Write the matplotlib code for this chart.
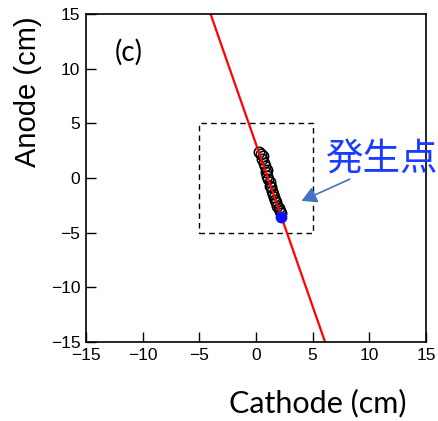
import matplotlib
matplotlib.use("Agg")
import matplotlib.pyplot as plt

# reconstructed track hits (cm)
hit_x = [0.30, 0.45, 0.55, 0.60, 0.70, 0.80, 0.85, 0.95, 1.00, 1.10, 1.20,
         1.25, 1.35, 1.45, 1.50, 1.60, 1.70, 1.80, 1.90, 2.00, 2.10, 2.20]
hit_y = [2.35, 2.20, 1.75, 2.00, 1.40, 1.10, 0.55, 0.70, 0.20, -0.10, -0.35,
         -0.70, -0.85, -1.20, -1.45, -1.70, -2.00, -2.20, -2.55, -2.75, -3.00, -3.20]

# fitted track line
fit_x = [-4.0, 6.1]
fit_y = [15.0, -15.0]

# origin point
origin_x = [2.25]
origin_y = [-3.55]

# fiducial box
box_x = [-5, 5, 5, -5, -5]
box_y = [-5, -5, 5, 5, -5]

ticks = [-15, -10, -5, 0, 5, 10, 15]

fig = plt.figure(figsize=(4.38, 4.21), dpi=100)
ax = fig.add_axes([0.196, 0.1876, 0.7766, 0.7791])

ax.plot(box_x, box_y, color="black", lw=1.0, ls=(0, (4, 3)))
ax.plot(hit_x, hit_y, "o", mfc="none", mec="black", ms=7.5, mew=1.1)
ax.plot(fit_x, fit_y, color="red", lw=1.6)
ax.plot(origin_x, origin_y, "o", color="#1010ff", ms=7.5)

ax.set_xlim(-15, 15)
ax.set_ylim(-15, 15)
ax.set_xticks(ticks)
ax.set_yticks(ticks)
ax.tick_params(direction="in", length=7, width=1.0, labelsize=12.5, pad=4,
               top=False, right=False)
for lab in ax.get_xticklabels() + ax.get_yticklabels():
    lab.set_family("Liberation Sans")
for sp in ax.spines.values():
    sp.set_linewidth(1.2)

ax.set_ylabel("Anode (cm)", fontsize=21, family="Liberation Sans")
ax.yaxis.set_label_coords(-0.13, 0.762, transform=ax.transAxes)
ax.set_xlabel("Cathode (cm)", fontsize=22, family="Lato")
ax.xaxis.set_label_coords(0.683, -0.143, transform=ax.transAxes)

ax.text(-11.2, 11.5, "(c)", fontsize=20, family="Lato", va="center", ha="center")

ax.annotate("", xy=(3.8, -2.2), xytext=(8.5, 0.0),
            arrowprops=dict(arrowstyle="-|>,head_length=0.9,head_width=0.5",
                            color="#4472c4", lw=1.2))
ax.text(6.2, 1.6, "発生点", fontsize=27, color="#1a3cff",
        family=["Noto Sans CJK JP", "DejaVu Sans"], va="center", ha="left")

fig.savefig("out.png", dpi=100)
